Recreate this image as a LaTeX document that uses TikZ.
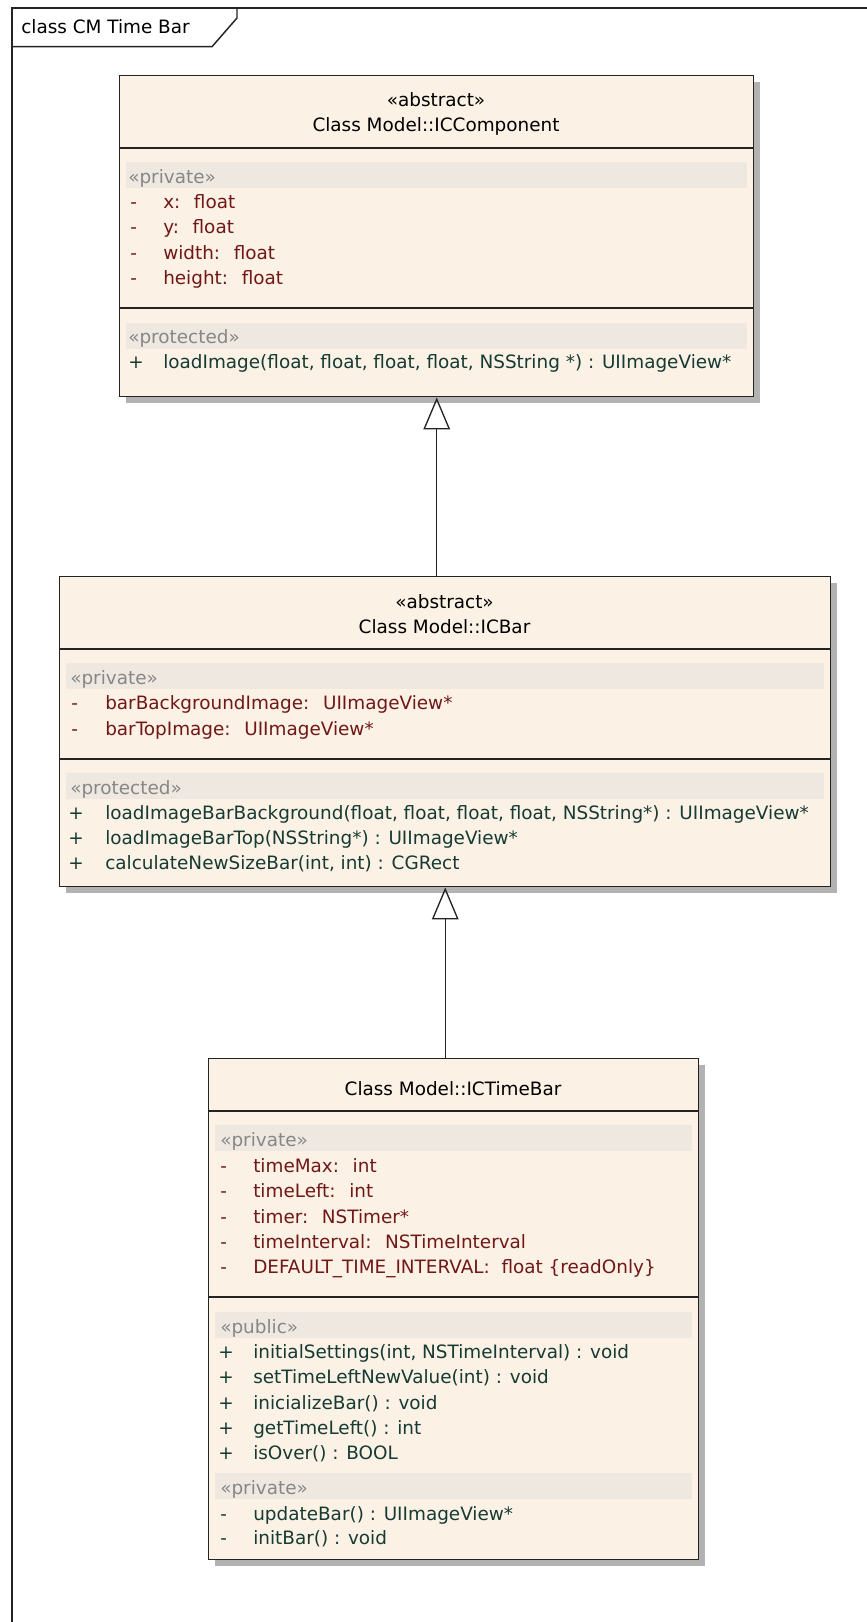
\documentclass[tikz,border=0pt]{standalone}
\usepackage{fontspec}
\setmainfont{DejaVu Sans}
\usepackage{tikz}
\usetikzlibrary{positioning, arrows.meta, shadows}

\definecolor{boxfill}{RGB}{251,241,229}
\definecolor{bandfill}{RGB}{238,232,225}
\definecolor{attrred}{RGB}{112,24,24}
\definecolor{opgreen}{RGB}{22,58,52}
\definecolor{stereogray}{RGB}{135,135,135}
\definecolor{linegray}{RGB}{35,35,35}

\begin{document}
\begin{tikzpicture}[x=0.75pt, y=-0.75pt,
    classbox/.style={rectangle, draw=linegray, line width=1.1pt, fill=boxfill, anchor=north west, inner sep=0pt,
        drop shadow={shadow xshift=4.5pt, shadow yshift=-4.5pt, fill=black!30, opacity=1}},
    band/.style={fill=bandfill},
    sepline/.style={draw=linegray, line width=1.1pt},
    frameline/.style={draw=linegray, line width=1.1pt},
    txt/.style={font=\fontsize{13.8}{16}\selectfont, inner sep=0pt, anchor=base west},
    header/.style={txt, anchor=base, text=black},
    stereo/.style={txt, text=stereogray},
    attr/.style={txt, text=attrred},
    oper/.style={txt, text=opgreen},
    inherit/.style={draw=linegray, line width=1pt, -{Triangle[open, length=24pt, width=20pt]}}
]
\useasboundingbox (0,0) rectangle (867,1622);

% frame
\draw[frameline] (12,1700) -- (12,8) -- (900,8);
\draw[frameline] (12,46.7) -- (212,46.7) -- (237,18) -- (237,8);
\node[txt] (frametitle) at (21,33) {class CM Time Bar};

% ICComponent
\node[classbox, minimum width=475.5pt, minimum height=240.75pt] (comp) at (119,75) {};
\draw[sepline] (119,148) -- (753,148);
\draw[sepline] (119,308) -- (753,308);
\fill[band] (126,162) rectangle (747,188);
\fill[band] (126,323) rectangle (747,349);
\node[header] (compstereo) at (436,106) {«abstract»};
\node[header] (compname) at (436,131) {Class Model::ICComponent};
\node[stereo] (comppriv) at (128,183) {«private»};
\foreach \y/\t [count=\i] in {208/{x:~ float}, 233/{y:~ float}, 259/{width:~ float}, 284/{height:~ float}}{
    \node[attr] (compvis\i) at (130,\y) {-};
    \node[attr] (compattr\i) at (163,\y) {\t};
}
\node[stereo] (compprot) at (128,343) {«protected»};
\node[oper] (compvisop) at (128,368) {+};
\node[oper] (compop) at (163,368) {loadImage(float, float, float, float, NSString *) : UIImageView*};

% ICBar
\node[classbox, minimum width=578.25pt, minimum height=232.5pt] (bar) at (59,576) {};
\draw[sepline] (59,649) -- (830,649);
\draw[sepline] (59,759) -- (830,759);
\fill[band] (66,663) rectangle (824,689);
\fill[band] (66,773) rectangle (824,799);
\node[header] (barstereo) at (444.5,608) {«abstract»};
\node[header] (barname) at (444.5,633) {Class Model::ICBar};
\node[stereo] (barpriv) at (70,684) {«private»};
\foreach \y/\t [count=\i] in {709/{barBackgroundImage:~ UIImageView*}, 735/{barTopImage:~ UIImageView*}}{
    \node[attr] (barvis\i) at (71,\y) {-};
    \node[attr] (barattr\i) at (105,\y) {\t};
}
\node[stereo] (barprot) at (70,794) {«protected»};
\foreach \y/\t [count=\i] in {819/{loadImageBarBackground(float, float, float, float, NSString*) : UIImageView*},
    844/{loadImageBarTop(NSString*) : UIImageView*}, 869/{calculateNewSizeBar(int, int) : CGRect}}{
    \node[oper] (barvisop\i) at (68,\y) {+};
    \node[oper] (barop\i) at (105,\y) {\t};
}

% ICTimeBar
\node[classbox, minimum width=367.5pt, minimum height=375.75pt] (timebar) at (208,1058) {};
\draw[sepline] (208,1111) -- (698,1111);
\draw[sepline] (208,1297) -- (698,1297);
\fill[band] (215,1125) rectangle (692,1151);
\fill[band] (215,1312) rectangle (692,1338);
\fill[band] (215,1473) rectangle (692,1499);
\node[header] (timebarname) at (453,1095) {Class Model::ICTimeBar};
\node[stereo] (timebarpriv) at (220,1146) {«private»};
\foreach \y/\t [count=\i] in {1172/{timeMax:~ int}, 1197/{timeLeft:~ int}, 1223/{timer:~ NSTimer*},
    1248/{timeInterval:~ NSTimeInterval}, 1273/{DEFAULT\_TIME\_INTERVAL:~ float \{readOnly\}}}{
    \node[attr] (timebarvis\i) at (220,\y) {-};
    \node[attr] (timebarattr\i) at (253,\y) {\t};
}
\node[stereo] (timebarpub) at (220,1333) {«public»};
\foreach \y/\t [count=\i] in {1358/{initialSettings(int, NSTimeInterval) : void}, 1383/{setTimeLeftNewValue(int) : void},
    1409/{inicializeBar() : void}, 1434/{getTimeLeft() : int}, 1459/{isOver() : BOOL}}{
    \node[oper] (timebarvisop\i) at (218,\y) {+};
    \node[oper] (timebarop\i) at (253,\y) {\t};
}
\node[stereo] (timebarpriv2) at (220,1494) {«private»};
\foreach \y/\t [count=\i] in {1520/{updateBar() : UIImageView*}, 1544/{initBar() : void}}{
    \node[oper] (timebarvispr\i) at (220,\y) {-};
    \node[oper] (timebarpr\i) at (253,\y) {\t};
}

% generalizations
\draw[inherit] (bar.north -| comp.south) -- (comp.south);
\draw[inherit] (timebar.north -| bar.south) -- (bar.south);
\end{tikzpicture}
\end{document}
